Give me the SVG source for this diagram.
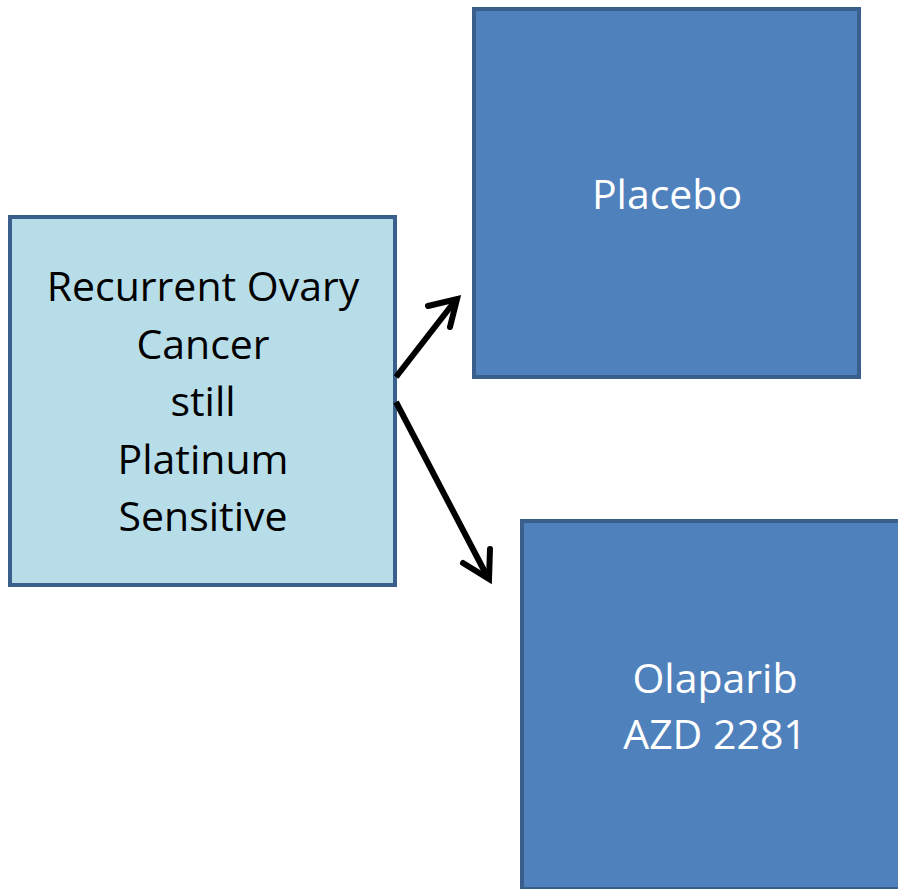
<svg xmlns="http://www.w3.org/2000/svg" width="898" height="889" viewBox="0 0 898 889">
<style>
.box{stroke:#3a5f8d;stroke-width:4}
.light{fill:#b7dde8}
.dark{fill:#4f81bd}
.t{font-family:"Open Sans","Liberation Sans",sans-serif;font-size:41px;text-anchor:middle}
.tb{fill:#000}
.tw{fill:#fff}
.conn{stroke:#000;stroke-width:6;fill:none;stroke-linecap:butt}
.head{stroke:#000;stroke-width:6;fill:none;stroke-linejoin:miter;stroke-linecap:round}
</style>
<rect width="898" height="889" fill="#fff"/>
<g id="node-recurrent">
<rect class="box light" x="10" y="217" width="385" height="368"/>
<text class="t tb" x="203" y="301">Recurrent Ovary</text>
<text class="t tb" x="203" y="359">Cancer</text>
<text class="t tb" x="203" y="416">still</text>
<text class="t tb" x="203" y="474">Platinum</text>
<text class="t tb" x="203" y="531">Sensitive</text>
</g>
<g id="node-placebo">
<rect class="box dark" x="474" y="9" width="385" height="368"/>
<text class="t tw" x="667" y="209">Placebo</text>
</g>
<g id="node-olaparib">
<rect class="box dark" x="522" y="521" width="386" height="368"/>
<text class="t tw" x="715" y="693">Olaparib</text>
<text class="t tw" x="715" y="749">AZD 2281</text>
</g>
<g id="connectors">
<line class="conn" x1="396" y1="377" x2="455" y2="301"/>
<polyline class="head" points="428,306 457,299 450,327"/>
<line class="conn" x1="396" y1="402" x2="487" y2="576"/>
<polyline class="head" points="463,563 489,579 490,549"/>
</g>
</svg>
